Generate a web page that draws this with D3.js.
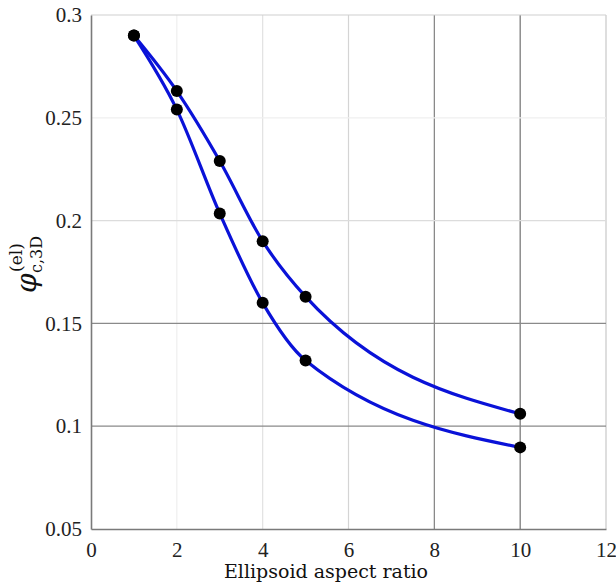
<!DOCTYPE html>
<html>
<head>
<meta charset="utf-8">
<script src="https://cdn.jsdelivr.net/npm/d3@7"></script>
<style>
body { margin: 0; background: #fff; }
svg { display: block; }
</style>
</head>
<body>
<svg width="616" height="586"></svg>
<script>
var aspect = [1, 2, 3, 4, 5, 10];
var upper = [0.290, 0.263, 0.229, 0.190, 0.163, 0.106];
var lower = [0.290, 0.254, 0.2035, 0.160, 0.132, 0.0897];

var xTicks = [0, 2, 4, 6, 8, 10, 12];
var yTicks = [0.05, 0.1, 0.15, 0.2, 0.25, 0.3];

// grid shades (the original has uneven grid colours)
var xGridColor = {2: "#efefef", 4: "#e2e2e2", 6: "#d4d4d4", 8: "#808080", 10: "#707070", 12: "#c8c8c8"};
var yGridColor = {0.1: "#8a8a8a", 0.15: "#8a8a8a", 0.2: "#dcdcdc", 0.25: "#efefef", 0.3: "#d0d0d0"};

var serif = "'Liberation Serif', 'DejaVu Serif', serif";

var svg = d3.select("svg");
var margin = {top: 15, right: 10, bottom: 57, left: 91};
var width = 616 - margin.left - margin.right;
var height = 586 - margin.top - margin.bottom;

var g = svg.append("g")
    .attr("transform", "translate(" + margin.left + "," + margin.top + ")");

var x = d3.scaleLinear().domain([0, 12]).range([0, width]);
var y = d3.scaleLinear().domain([0.05, 0.3]).range([height, 0]);

// grid
g.append("g").selectAll("line")
    .data(xTicks.filter(function(d) { return d > 0; }))
    .enter().append("line")
    .attr("x1", function(d) { return x(d); })
    .attr("x2", function(d) { return x(d); })
    .attr("y1", 0).attr("y2", height)
    .style("stroke", function(d) { return xGridColor[d]; })
    .style("stroke-width", 1.2);

g.append("g").selectAll("line")
    .data(yTicks.filter(function(d) { return d > 0.05; }))
    .enter().append("line")
    .attr("x1", 0).attr("x2", width)
    .attr("y1", function(d) { return y(d); })
    .attr("y2", function(d) { return y(d); })
    .style("stroke", function(d) { return yGridColor[d]; })
    .style("stroke-width", 1.2);

// axes
var xAxis = g.append("g")
    .attr("transform", "translate(0," + height + ")")
    .call(d3.axisBottom(x).tickValues(xTicks).tickSize(0).tickPadding(13)
        .tickFormat(d3.format("d")));
var yAxis = g.append("g")
    .call(d3.axisLeft(y).tickValues(yTicks).tickSize(0).tickPadding(9)
        .tickFormat(function(d) { return String(+d.toFixed(2)); }));

[xAxis, yAxis].forEach(function(a) {
    a.select(".domain").style("stroke", "#7a7a7a").style("stroke-width", 1.6);
    a.selectAll("text")
        .style("font-family", serif)
        .style("font-size", "21px")
        .style("fill", "#222");
});

// curves
var line = d3.line()
    .x(function(d) { return x(d[0]); })
    .y(function(d) { return y(d[1]); })
    .curve(d3.curveMonotoneX);

[upper, lower].forEach(function(s) {
    var pts = aspect.map(function(a, i) { return [a, s[i]]; });
    g.append("path")
        .datum(pts)
        .attr("d", line)
        .style("fill", "none")
        .style("stroke", "#0a12d8")
        .style("stroke-width", 3.2);
});

[upper, lower].forEach(function(s) {
    g.append("g").selectAll("circle")
        .data(aspect.map(function(a, i) { return [a, s[i]]; }))
        .enter().append("circle")
        .attr("cx", function(d) { return x(d[0]); })
        .attr("cy", function(d) { return y(d[1]); })
        .attr("r", 6)
        .style("fill", "#000");
});

// labels
svg.append("text")
    .attr("x", 326)
    .attr("y", 578)
    .attr("text-anchor", "middle")
    .style("font-family", "'DejaVu Serif', serif")
    .style("font-size", "19px")
    .style("fill", "#111")
    .text("Ellipsoid aspect ratio");

var yl = svg.append("g")
    .attr("transform", "translate(36,293) rotate(-90)")
    .style("font-family", "'DejaVu Serif', serif")
    .style("fill", "#111");
yl.append("text")
    .attr("x", 0).attr("y", 0)
    .style("font-size", "28px")
    .style("font-style", "italic")
    .text("φ");
yl.append("text")
    .attr("x", 21).attr("y", -14)
    .style("font-size", "17px")
    .text("(el)");
yl.append("text")
    .attr("x", 20).attr("y", 6)
    .style("font-size", "16px")
    .text("c,3D");
</script>
</body>
</html>
